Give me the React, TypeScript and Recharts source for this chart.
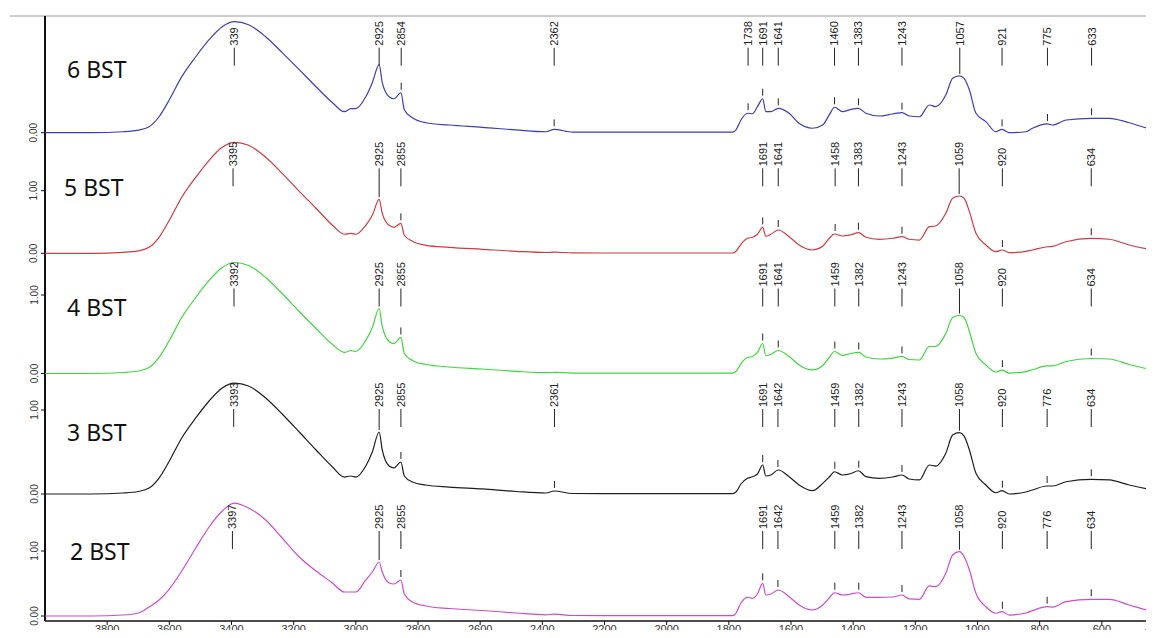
import React from 'react';
import { LineChart, Line, XAxis, YAxis, ReferenceDot, ReferenceLine, Customized } from 'recharts';

// wavenumber grid, cm-1 (shared by all traces)
const wavenumbers = [
  4000, 3850, 3750, 3700, 3665, 3633, 3600, 3560, 3515, 3472,
  3430, 3391, 3345, 3290, 3237, 3182, 3128, 3075, 3037, 3016,
  3000, 2968, 2947, 2925, 2915, 2893, 2877, 2855, 2844, 2818,
  2775, 2700, 2593, 2485, 2388, 2362, 2303, 2200, 2000, 1850,
  1788, 1777, 1761, 1740, 1724, 1708, 1691, 1681, 1665, 1641,
  1606, 1574, 1531, 1498, 1477, 1460, 1434, 1407, 1383, 1359,
  1316, 1273, 1243, 1220, 1187, 1155, 1134, 1102, 1080, 1058,
  1043, 1026, 1005, 973, 941, 921, 898, 844, 823, 776,
  758, 715, 634, 576, 512, 434, 400,
];

// absorbance of each trace
const bst6 = [
  0, 0, 0.008, 0.021, 0.05, 0.133, 0.275, 0.467, 0.633, 0.775,
  0.883, 0.925, 0.9, 0.8, 0.667, 0.525, 0.383, 0.25, 0.175, 0.2,
  0.2, 0.3, 0.417, 0.567, 0.417, 0.3, 0.283, 0.333, 0.192, 0.125,
  0.083, 0.064, 0.045, 0.023, 0.008, 0.028, 0.004, 0.004, 0.004, 0.004,
  0.004, 0.023, 0.106, 0.162, 0.158, 0.217, 0.283, 0.175, 0.175, 0.203,
  0.162, 0.078, 0.037, 0.064, 0.148, 0.212, 0.175, 0.195, 0.203, 0.162,
  0.139, 0.156, 0.167, 0.139, 0.133, 0.231, 0.217, 0.314, 0.453, 0.473,
  0.453, 0.356, 0.162, 0.092, 0.008, 0.028, 0, 0.008, 0.037, 0.073,
  0.064, 0.106, 0.12, 0.12, 0.083, 0.023, 0.008,
];
const bst5 = [
  0, 0, 0.016, 0.04, 0.096, 0.256, 0.527, 0.895, 1.214, 1.486,
  1.693, 1.773, 1.725, 1.534, 1.278, 0.99, 0.719, 0.447, 0.304, 0.319,
  0.304, 0.447, 0.607, 0.863, 0.639, 0.447, 0.415, 0.479, 0.288, 0.192,
  0.128, 0.096, 0.064, 0.032, 0.013, 0.019, 0.006, 0.005, 0.005, 0.005,
  0.005, 0.032, 0.144, 0.24, 0.256, 0.304, 0.415, 0.272, 0.304, 0.372,
  0.265, 0.133, 0.053, 0.112, 0.24, 0.308, 0.276, 0.296, 0.329, 0.256,
  0.224, 0.24, 0.265, 0.224, 0.212, 0.425, 0.436, 0.639, 0.879, 0.915,
  0.879, 0.665, 0.319, 0.133, 0.026, 0.053, 0.01, 0.032, 0.053, 0.105,
  0.112, 0.185, 0.24, 0.224, 0.133, 0.053, 0.032,
];
const bst4 = [
  0, 0, 0.013, 0.032, 0.076, 0.204, 0.42, 0.713, 0.968, 1.185,
  1.35, 1.414, 1.376, 1.223, 1.019, 0.79, 0.573, 0.369, 0.268, 0.293,
  0.28, 0.42, 0.586, 0.828, 0.599, 0.408, 0.382, 0.459, 0.255, 0.166,
  0.115, 0.083, 0.057, 0.028, 0.01, 0.015, 0.005, 0.004, 0.004, 0.004,
  0.004, 0.025, 0.127, 0.204, 0.217, 0.268, 0.382, 0.229, 0.242, 0.293,
  0.217, 0.108, 0.045, 0.102, 0.204, 0.28, 0.229, 0.255, 0.268, 0.21,
  0.185, 0.197, 0.217, 0.178, 0.172, 0.344, 0.344, 0.51, 0.713, 0.739,
  0.713, 0.535, 0.255, 0.108, 0.019, 0.042, 0.006, 0.025, 0.048, 0.096,
  0.096, 0.153, 0.191, 0.185, 0.115, 0.045, 0.025,
];
const bst3 = [
  0, 0, 0.012, 0.03, 0.071, 0.19, 0.393, 0.667, 0.905, 1.107,
  1.262, 1.321, 1.286, 1.143, 0.952, 0.738, 0.524, 0.321, 0.202, 0.214,
  0.202, 0.333, 0.5, 0.738, 0.524, 0.333, 0.31, 0.381, 0.214, 0.143,
  0.107, 0.083, 0.06, 0.03, 0.012, 0.036, 0.006, 0.005, 0.005, 0.005,
  0.005, 0.024, 0.119, 0.187, 0.206, 0.238, 0.345, 0.214, 0.226, 0.286,
  0.206, 0.107, 0.039, 0.127, 0.202, 0.265, 0.226, 0.244, 0.277, 0.206,
  0.187, 0.202, 0.226, 0.179, 0.167, 0.345, 0.333, 0.485, 0.702, 0.73,
  0.69, 0.524, 0.246, 0.107, 0.015, 0.039, 0, 0.024, 0.048, 0.095,
  0.095, 0.146, 0.175, 0.167, 0.107, 0.048, 0.03,
];
const bst2 = [
  0, 0, 0.015, 0.046, 0.138, 0.246, 0.415, 0.692, 1.046, 1.369,
  1.615, 1.738, 1.662, 1.477, 1.2, 0.908, 0.692, 0.508, 0.369, 0.369,
  0.369, 0.554, 0.677, 0.831, 0.677, 0.508, 0.492, 0.554, 0.338, 0.215,
  0.154, 0.115, 0.085, 0.046, 0.018, 0.028, 0.008, 0.006, 0.006, 0.006,
  0.006, 0.046, 0.2, 0.288, 0.272, 0.338, 0.503, 0.323, 0.338, 0.4,
  0.297, 0.169, 0.092, 0.169, 0.277, 0.358, 0.323, 0.338, 0.358, 0.288,
  0.288, 0.292, 0.323, 0.262, 0.257, 0.462, 0.451, 0.657, 0.938, 0.989,
  0.912, 0.708, 0.349, 0.143, 0.042, 0.066, 0.015, 0.046, 0.082, 0.143,
  0.138, 0.22, 0.257, 0.257, 0.169, 0.066, 0.038,
];

// labelled peaks of each trace
const peaks6 = [3391, 2925, 2854, 2362, 1738, 1691, 1641, 1460, 1383, 1243, 1057, 921, 775, 633];
const peaks5 = [3395, 2925, 2855, 1691, 1641, 1458, 1383, 1243, 1059, 920, 634];
const peaks4 = [3392, 2925, 2855, 1691, 1641, 1459, 1382, 1243, 1058, 920, 634];
const peaks3 = [3393, 2925, 2855, 2361, 1691, 1642, 1459, 1382, 1243, 1058, 920, 776, 634];
const peaks2 = [3397, 2925, 2855, 1691, 1642, 1459, 1382, 1243, 1058, 920, 776, 634];
// the top label is cut off in the source figure
const shownText: Record<string, string> = { 'bst6-3391': '339' };

const xTicks = [3800, 3600, 3400, 3200, 3000, 2800, 2600, 2400, 2200, 2000, 1800, 1600, 1400, 1200, 1000, 800, 600, 400];

// layout: each trace gets its own band
const PLOT_TOP = 16;
const PLOT_BOTTOM = 621;

const series = [
  { key: 'bst6', name: '6 BST', color: '#3d3db5', values: bst6, peaks: peaks6, ticks: [0], base: 132.7, unit: 120, nameX: 67, nameY: 78 },
  { key: 'bst5', name: '5 BST', color: '#d03a44', values: bst5, peaks: peaks5, ticks: [0, 1], base: 253.3, unit: 62.6, nameX: 64, nameY: 196 },
  { key: 'bst4', name: '4 BST', color: '#3cd83c', values: bst4, peaks: peaks4, ticks: [0, 1], base: 373.5, unit: 78.5, nameX: 67, nameY: 316 },
  { key: 'bst3', name: '3 BST', color: '#1e1e1e', values: bst3, peaks: peaks3, ticks: [0, 1], base: 494, unit: 84, nameX: 67, nameY: 441 },
  { key: 'bst2', name: '2 BST', color: '#cc4ccc', values: bst2, peaks: peaks2, ticks: [0, 1], base: 616, unit: 65, nameX: 70, nameY: 560 },
];

const rows = wavenumbers.map((w, i) => {
  const row: Record<string, number> = { w };
  series.forEach((s) => { row[s.key] = s.values[i]; });
  return row;
});

function peakValue(values: number[], w: number) {
  let best = 0;
  wavenumbers.forEach((g, i) => {
    if (Math.abs(g - w) <= 15 && values[i] > best) best = values[i];
  });
  return best;
}

const FONT = '"Liberation Sans", Arial, sans-serif';

function PeakMark(props: any) {
  const { cx, cy, base, text } = props;
  const textBottom = base - 87;
  const lineTop = base - 85;
  let lineBottom = base - 67;
  let showTick = true;
  if (cy <= lineBottom + 20) {
    if (cy - 2 > lineBottom) lineBottom = cy - 2;
    showTick = false;
  }
  return (
    <g>
      <text
        x={cx}
        y={textBottom}
        transform={`rotate(-90 ${cx} ${textBottom})`}
        dy="0.36em"
        fontSize={11}
        fontFamily={FONT}
        fill="#222"
      >
        {text}
      </text>
      <line x1={cx} x2={cx} y1={lineTop} y2={lineBottom} stroke="#222" strokeWidth={1} />
      {showTick && <line x1={cx} x2={cx} y1={cy - 10} y2={cy - 3} stroke="#222" strokeWidth={1} />}
    </g>
  );
}

function YTickMark(props: any) {
  const { cx, cy, value } = props;
  const tx = cx - 7.5;
  return (
    <g>
      <line x1={cx - 4} x2={cx} y1={cy} y2={cy} stroke="#111" strokeWidth={1} />
      <text x={tx} y={cy} transform={`rotate(-90 ${tx} ${cy})`} textAnchor="middle" fontSize={10} fontFamily={FONT} fill="#333">
        {Number(value).toFixed(2)}
      </text>
    </g>
  );
}

function XTick(props: any) {
  const { x, y, payload } = props;
  const last = payload.value === 400;
  return (
    <text x={last ? x - 1 : x} y={y} dy="0.62em" textAnchor={last ? 'end' : 'middle'} fontSize={11} fontFamily={FONT} fill="#333">
      {payload.value}
    </text>
  );
}

function Decor() {
  return (
    <g>
      <line x1={10} x2={1154} y1={PLOT_TOP} y2={PLOT_TOP} stroke="#9a9a9a" strokeWidth={1} />
      {series.map((s) => (
        <text key={s.key} x={s.nameX} y={s.nameY} fontSize={23} fontFamily='"Noto Sans", sans-serif' fill="#111">
          {s.name}
        </text>
      ))}
    </g>
  );
}

export default function App() {
  return (
    <div style={{ margin: -8, width: 1154, height: 638, overflow: 'hidden', background: '#fff' }}>
      <LineChart width={1180} height={638} data={rows} margin={{ top: PLOT_TOP, right: 16, left: 45, bottom: 0 }}>
        <XAxis
          dataKey="w"
          type="number"
          domain={[400, 4000]}
          reversed
          ticks={xTicks}
          interval={0}
          height={17}
          tick={<XTick />}
          tickSize={4}
          tickMargin={1}
          axisLine={{ stroke: '#111', strokeWidth: 1.5 }}
          tickLine={{ stroke: '#111' }}
        />
        {series.map((s) => (
          <YAxis
            key={s.key}
            yAxisId={s.key}
            type="number"
            hide
            domain={[-(PLOT_BOTTOM - s.base) / s.unit, (s.base - PLOT_TOP) / s.unit]}
          />
        ))}
        <ReferenceLine yAxisId="bst6" x={4000} stroke="#111" strokeWidth={2} />
        {series.map((s) => (
          <Line
            key={s.key}
            yAxisId={s.key}
            dataKey={s.key}
            type="monotone"
            stroke={s.color}
            strokeWidth={1.2}
            dot={false}
            isAnimationActive={false}
          />
        ))}
        {series.map((s) =>
          s.ticks.map((t) => (
            <ReferenceDot
              key={`${s.key}-tick-${t}`}
              yAxisId={s.key}
              x={4000}
              y={t}
              r={0}
              shape={(props: any) => <YTickMark {...props} value={t} />}
            />
          )),
        )}
        {series.map((s) =>
          s.peaks.map((p) => (
            <ReferenceDot
              key={`${s.key}-${p}`}
              yAxisId={s.key}
              x={p}
              y={peakValue(s.values, p)}
              r={0}
              shape={(props: any) => (
                <PeakMark {...props} base={s.base} text={shownText[`${s.key}-${p}`] ?? String(p)} />
              )}
            />
          )),
        )}
        <Customized component={Decor} />
      </LineChart>
    </div>
  );
}
